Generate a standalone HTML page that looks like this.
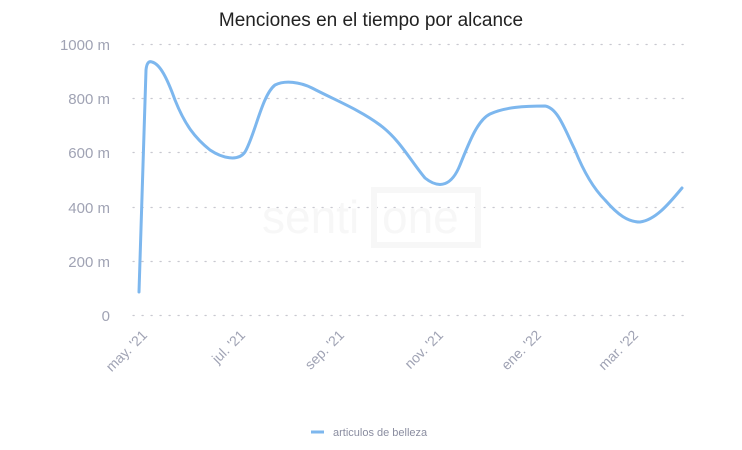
<!DOCTYPE html>
<html><head><meta charset="utf-8"><style>
body{margin:0;background:#fff}
svg{display:block;font-family:"Liberation Sans",sans-serif}
</style></head><body>
<svg width="742" height="450" viewBox="0 0 742 450">
<text x="371" y="26" text-anchor="middle" font-size="19" fill="#222">Menciones en el tiempo por alcance</text>
<g stroke="#c8c8d0" stroke-width="1.2" stroke-dasharray="1.2 7.8" stroke-linecap="round">
<line x1="133" x2="686" y1="44.5" y2="44.5"/><line x1="133" x2="686" y1="98.5" y2="98.5"/>
<line x1="133" x2="686" y1="152.5" y2="152.5"/><line x1="133" x2="686" y1="207.5" y2="207.5"/>
<line x1="133" x2="686" y1="261.5" y2="261.5"/><line x1="133" x2="686" y1="315.5" y2="315.5"/>
</g>
<g font-size="15" fill="#a0a3b4" text-anchor="end">
<text x="110" y="50">1000 m</text><text x="110" y="104">800 m</text><text x="110" y="158">600 m</text>
<text x="110" y="213">400 m</text><text x="110" y="267">200 m</text><text x="110" y="321">0</text>
</g>
<g>
<text x="262" y="233" font-size="46" fill="#f7f7f7">senti</text>
<rect x="374" y="190" width="104" height="55" fill="none" stroke="#f7f7f7" stroke-width="6"/>
<text x="382" y="233" font-size="46" fill="#f7f7f7">one</text>
</g>
<g font-size="14" fill="#a0a3b4" text-anchor="end">
<text transform="translate(148,336) rotate(-45)">may. '21</text>
<text transform="translate(246,336) rotate(-45)">jul. '21</text>
<text transform="translate(345,336) rotate(-45)">sep. '21</text>
<text transform="translate(444,336) rotate(-45)">nov. '21</text>
<text transform="translate(542,336) rotate(-45)">ene. '22</text>
<text transform="translate(639,336) rotate(-45)">mar. '22</text>
</g>
<path d="M139,292 L146,70 Q147,60 152,62 C160,64 167,78 175,100 C185,125 195,138 210,150 C222,158 238,162 245,152 C255,135 262,95 275,85 C285,80 300,82 312,88 C335,100 360,110 380,125 C400,140 410,160 425,178 C440,190 452,185 460,165 C470,140 478,120 490,114 C505,107 525,106 545,106 C558,108 565,130 575,150 C585,175 595,190 605,200 C618,215 628,222 640,222 C655,220 668,205 682,188" fill="none" stroke="#7db7ee" stroke-width="3" stroke-linejoin="round" stroke-linecap="round"/>
<line x1="311" x2="324" y1="432" y2="432" stroke="#7db7ee" stroke-width="3"/>
<text x="333" y="436" font-size="11" fill="#8a8da0">articulos de belleza</text>
</svg>
</body></html>
